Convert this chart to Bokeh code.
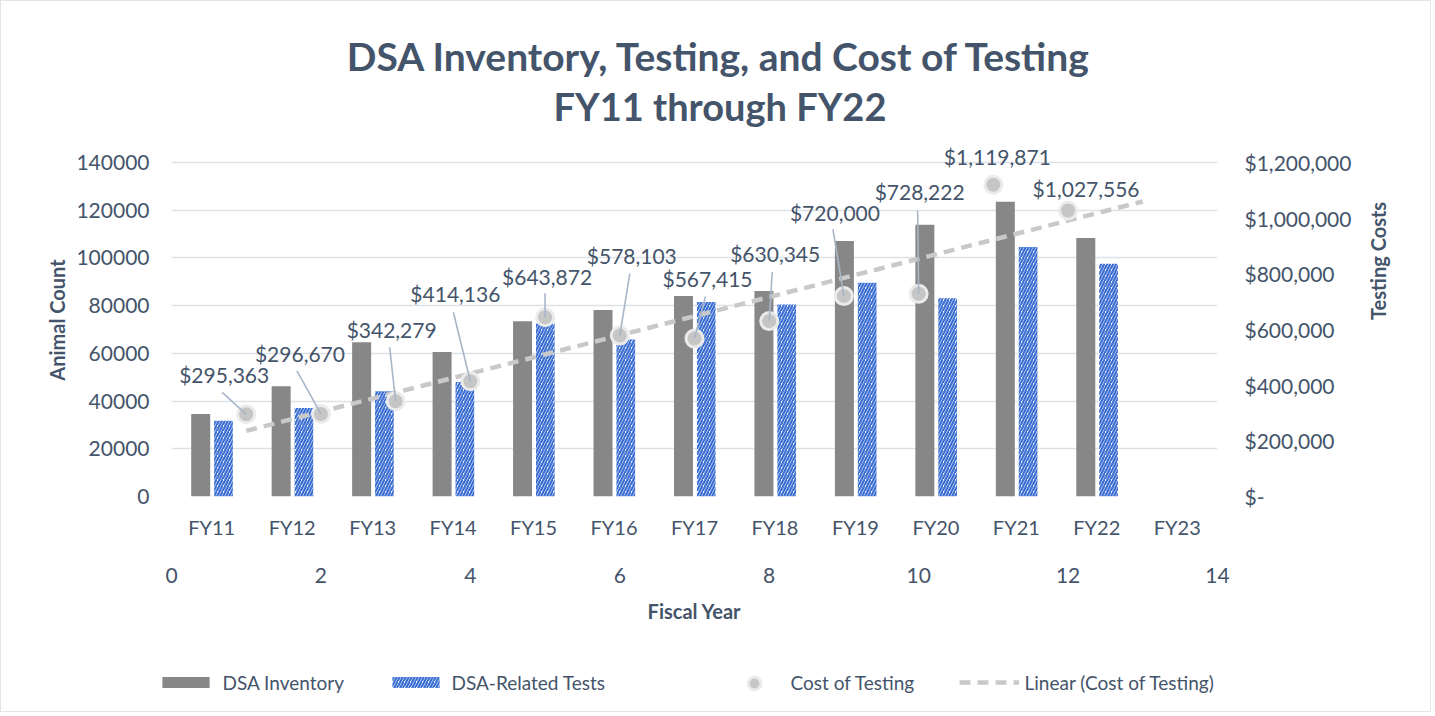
import math
import numpy as np
from bokeh.plotting import figure
from bokeh.layouts import column
from bokeh.models import (Range1d, LinearAxis, ColumnDataSource, LabelSet,
                          Legend, LegendItem, FixedTicker, NumeralTickFormatter,
                          CustomJSTickFormatter, Label)
from bokeh.core.properties import value
from bokeh.embed import file_html
from bokeh.resources import INLINE

# ---------------- data ----------------
years = ["FY11", "FY12", "FY13", "FY14", "FY15", "FY16", "FY17",
         "FY18", "FY19", "FY20", "FY21", "FY22", "FY23"]
inventory = [34600, 46200, 64700, 60600, 73500, 78200, 84000,
             86100, 107100, 113900, 123500, 108400]
tests = [31800, 37100, 44100, 48000, 72500, 65800, 81500,
         80500, 89600, 83100, 104600, 97600]
cost_x = [1, 2, 3, 4, 5, 6, 7, 8, 9, 10, 11, 12]
cost = [295363, 296670, 342279, 414136, 643872, 578103, 567415,
        630345, 720000, 728222, 1119871, 1027556]
cost_labels = ["$295,363", "$296,670", "$342,279", "$414,136", "$643,872",
               "$578,103", "$567,415", "$630,345", "$720,000", "$728,222",
               "$1,119,871", "$1,027,556"]
left_ticks = [0, 20000, 40000, 60000, 80000, 100000, 120000, 140000]
right_ticks = [0, 200000, 400000, 600000, 800000, 1000000, 1200000]
num_ticks = [0, 2, 4, 6, 8, 10, 12, 14]
title_lines = ["DSA Inventory, Testing, and Cost of Testing", "FY11 through FY22"]

# ---------------- layout / style ----------------
FONT = "Lato"
TXT = "#44546a"
W = 1429
TITLE_H, LEG_H = 130, 75
ML, MR, MT, MB = 170, 213, 12, 140
FH = 353                     # frame height (extra headroom above the 140000 line)
MAIN_H = MT + FH + MB
FW = W - ML - MR
AX_PX = 334                  # pixels from 0 to 140000 / $1,200,000
Y_TOP = 140000 * FH / AX_PX
COST_TOP = 1200000 * FH / AX_PX
PX_X = FW / 14.0
PX_Y = FH / COST_TOP

# label placement offsets in pixels relative to each point (screen, y down)
lab_dx = [-22, -21, -4, -15, 2, 12, 13, 6, -9, 1, 4, 18]
lab_dy = [-40, -60, -72, -88, -41, -80, -60, -68, -84, -102, -28, -22]
lead_dx = [-24, -24, -6, -17, 0, 10, 11, 3, -11, -1, None, None]
lead_dy = [-22, -43, -54, -69, -24, -62, -42, -49, -67, -83, None, None]


def no_align(fig):
    try:
        fig.frame_align = False
    except Exception:
        pass


# ---------------- title strip ----------------
pt = figure(width=W, height=TITLE_H, x_range=Range1d(0, 1), y_range=Range1d(0, 1),
            output_backend="svg", toolbar_location=None, min_border=0,
            x_axis_location=None, y_axis_location=None)
pt.outline_line_color = None
pt.grid.visible = False
no_align(pt)
for txt, cy, fs in zip(title_lines, [54, 104], ["39px", "38px"]):
    pt.add_layout(Label(x=718.5, y=TITLE_H - cy, x_units="screen", y_units="screen",
                        text=txt, text_align="center", text_baseline="middle",
                        text_font=FONT, text_font_size=fs, text_font_style="bold",
                        text_color=TXT))

# ---------------- main chart ----------------
p = figure(width=W, height=MAIN_H, x_range=Range1d(0, len(years)),
           y_range=Range1d(0, Y_TOP), output_backend="svg", toolbar_location=None,
           min_border_left=ML, min_border_right=MR, min_border_top=MT, min_border_bottom=MB)
no_align(p)
p.extra_x_ranges = {"num": Range1d(0, 14)}
p.extra_y_ranges = {"cost": Range1d(0, COST_TOP)}
p.outline_line_color = None

p.xgrid.grid_line_color = None
p.ygrid.ticker = FixedTicker(ticks=left_ticks)
p.ygrid.grid_line_color = "#dde1e8"
p.ygrid.grid_line_width = 1.6

def style_axis(ax, standoff, size="21px"):
    ax.major_tick_line_color = None
    ax.minor_tick_line_color = None
    ax.major_tick_out = 0
    ax.major_tick_in = 0
    ax.minor_tick_out = 0
    ax.minor_tick_in = 0
    ax.axis_line_color = None
    ax.major_label_text_font = FONT
    ax.major_label_text_font_size = size
    ax.major_label_text_color = TXT
    ax.major_label_standoff = standoff
    ax.axis_label_text_font = FONT
    ax.axis_label_text_font_size = "20px"
    ax.axis_label_text_font_style = "bold"
    ax.axis_label_text_color = TXT

# left axis
ya = p.yaxis[0]
ya.ticker = FixedTicker(ticks=left_ticks)
ya.formatter = NumeralTickFormatter(format="0")
ya.axis_label = "Animal Count"
style_axis(ya, 22)
ya.axis_label_standoff = 4

# right axis
ra = LinearAxis(y_range_name="cost", ticker=FixedTicker(ticks=right_ticks),
                formatter=CustomJSTickFormatter(code="""
                    if (tick == 0) return '$-';
                    return '$' + Math.round(tick).toLocaleString('en-US');"""),
                axis_label="Testing Costs")
style_axis(ra, 27)
ra.axis_label_standoff = 24
try:
    ra.axis_label_orientation = math.pi / 2   # read bottom-to-top like the reference
except Exception:
    pass
p.add_layout(ra, "right")

# bottom category axis (categories centred in equal slots)
cat_pos = [i + 0.5 for i in range(len(years))]
xa = p.xaxis[0]
xa.ticker = FixedTicker(ticks=cat_pos)
xa.major_label_overrides = {c: y for c, y in zip(cat_pos, years)}
style_axis(xa, 18, "20px")

# bottom numeric axis
na = LinearAxis(x_range_name="num", ticker=FixedTicker(ticks=num_ticks), axis_label="Fiscal Year")
style_axis(na, 26)
na.axis_label_standoff = 13
p.add_layout(na, "below")

# bars
n = len(inventory)
bsrc = ColumnDataSource(dict(xi=[c - 0.137 for c in cat_pos[:n]],
                             xt=[c + 0.146 for c in cat_pos[:n]],
                             inventory=inventory, tests=tests))
BAR_GRAY = dict(fill_color="#878787", line_color=None)
BAR_HATCH = dict(fill_color="white", line_color=None, hatch_pattern="/",
                 hatch_color="#3a6ed2", hatch_scale=6, hatch_weight=2.2)
p.vbar(x="xi", top="inventory", width=0.236, source=bsrc, **BAR_GRAY)
p.vbar(x="xt", top="tests", width=0.232, source=bsrc, **BAR_HATCH)

# trend line (least-squares fit of the cost series, forecast one period forward)
slope, icept = np.polyfit(cost_x, cost, 1)
tx = [cost_x[0], cost_x[-1] + 1]
ty = [icept + slope * t for t in tx]
TREND = dict(line_color="#c9c9c9", line_width=4.5, line_dash="11 7")
p.line(tx, ty, x_range_name="num", y_range_name="cost", **TREND)

# cost points
csrc = ColumnDataSource(dict(x=cost_x, y=cost, lab=cost_labels,
                             dx=lab_dx, dy=[-d for d in lab_dy]))
DOT = dict(fill_color="#c6c6c6", line_color="#ebebeb", line_width=3)
p.scatter("x", "y", source=csrc, x_range_name="num", y_range_name="cost", size=17, **DOT)

# leader lines
x0, y0, x1, y1 = [], [], [], []
for xv, yv, ldx, ldy in zip(cost_x, cost, lead_dx, lead_dy):
    if ldx is None:
        continue
    x0.append(xv + ldx / PX_X)
    y0.append(yv - ldy / PX_Y)
    x1.append(xv)
    y1.append(yv)
p.segment(x0, y0, x1, y1, x_range_name="num", y_range_name="cost",
          line_color="#a8b6c9", line_width=1.6)

labels = LabelSet(x="x", y="y", text="lab", source=csrc, x_range_name="num", y_range_name="cost",
                  x_offset="dx", y_offset="dy", text_align="center", text_baseline="middle",
                  text_font=value(FONT), text_font_size="21px", text_color=TXT)
p.add_layout(labels)

# ---------------- legend strip ----------------
pl = figure(width=W, height=LEG_H, x_range=Range1d(0, 1), y_range=Range1d(0, 1),
            output_backend="svg", toolbar_location=None, min_border=0,
            x_axis_location=None, y_axis_location=None)
pl.outline_line_color = None
pl.grid.visible = False
no_align(pl)
# legend proxies: one point each, placed outside the visible range of this strip
l_inv = pl.vbar(x=[-5], top=[-5], width=1, **BAR_GRAY)
l_tst = pl.vbar(x=[-5], top=[-5], width=1, **BAR_HATCH)
l_dot = pl.scatter(x=[-5], y=[-5], size=13, **DOT)
l_trd = pl.line(x=[-5, -4], y=[-5, -5], **TREND)

LEG_CY = 28.5
def add_leg(renderer, label, left, gw, gh, standoff):
    rowh = max(gh, 22)
    leg = Legend(items=[LegendItem(label=label, renderers=[renderer])],
                 location=(left, LEG_CY - rowh / 2.0),
                 orientation="horizontal", glyph_width=gw, glyph_height=gh,
                 label_standoff=standoff, padding=0, margin=0, spacing=0,
                 border_line_color=None, background_fill_alpha=0,
                 label_text_font=FONT, label_text_font_size="19px", label_text_color=TXT,
                 label_height=22, label_text_baseline="middle")
    pl.add_layout(leg, "center")

add_leg(l_inv, "DSA Inventory", 154.5, 59, 14, 8)
add_leg(l_tst, "DSA-Related Tests", 384.5, 59, 14, 7)
add_leg(l_dot, "Cost of Testing", 736.5, 32, 32, 21)
add_leg(l_trd, "Linear (Cost of Testing)", 957.5, 60, 14, 6)

layout = column(pt, p, pl, spacing=0)
layout.styles = {"border": "1.5px solid #e2e5ea"}

open("out.html", "w").write(file_html(layout, INLINE))
